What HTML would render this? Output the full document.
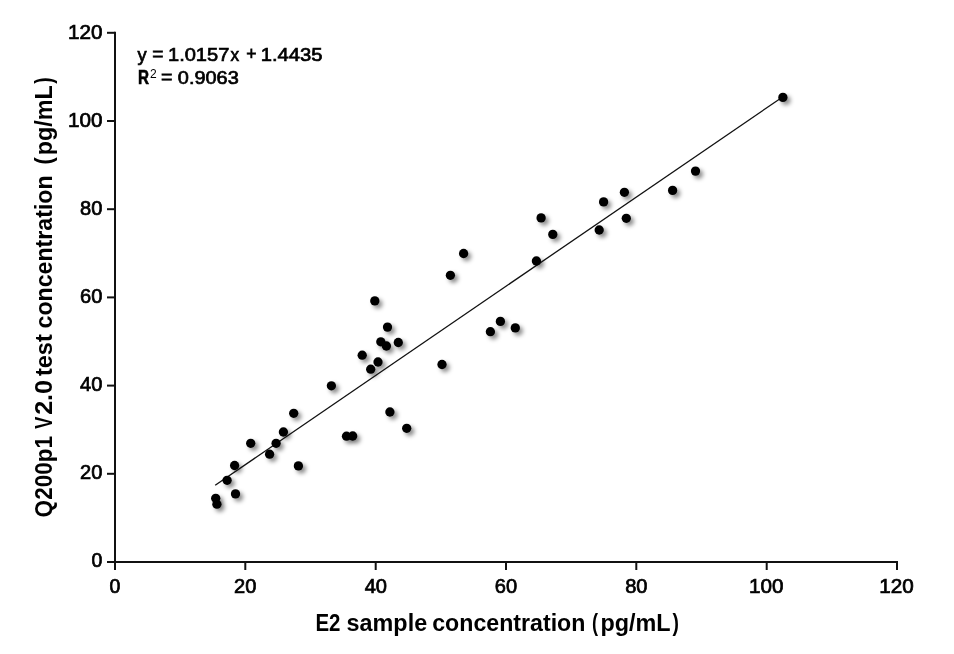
<!DOCTYPE html>
<html lang="en">
<head>
<meta charset="utf-8">
<title>E2 sample concentration vs Q200p1 V2.0 test concentration</title>
<style>
html,body{margin:0;padding:0;background:#fff;}
body{width:954px;height:654px;overflow:hidden;}
svg{display:block;}
text{font-family:"Liberation Sans","Noto Sans CJK SC",sans-serif;fill:#000;}
.tick{font-size:19.7px;stroke:#000;stroke-width:0.7px;}
.eq{font-size:19px;stroke:#000;stroke-width:0.7px;}
.eqb{font-size:19.5px;font-weight:bold;stroke:#000;stroke-width:0.6px;}
.sup{font-size:12.3px;stroke:none;}
.lab{font-size:24.7px;font-weight:bold;}
</style>
</head>
<body>
<svg width="954" height="654" viewBox="0 0 954 654">
<defs>
<filter id="sh" x="-50%" y="-50%" width="250%" height="250%">
<feGaussianBlur stdDeviation="1.9"/>
</filter>
</defs>
<rect x="0" y="0" width="954" height="654" fill="#fff"/>
<!-- axes and tick marks -->
<g stroke="#111" stroke-width="2" fill="none">
<path d="M115 31.8V570"/>
<path d="M107 562H898"/>
<path d="M107 473.8H115"/>
<path d="M107 385.6H115"/>
<path d="M107 297.4H115"/>
<path d="M107 209.2H115"/>
<path d="M107 121.0H115"/>
<path d="M107 32.8H115"/>
<path d="M245.3 562V570"/>
<path d="M375.7 562V570"/>
<path d="M506.0 562V570"/>
<path d="M636.3 562V570"/>
<path d="M766.7 562V570"/>
<path d="M897.0 562V570"/>
</g>
<!-- y axis tick labels -->
<text class="tick" x="91.62" y="566.81" textLength="10.84" lengthAdjust="spacingAndGlyphs">0</text>
<text class="tick" x="80.12" y="478.81" textLength="22.34" lengthAdjust="spacingAndGlyphs">20</text>
<text class="tick" x="80.12" y="390.81" textLength="22.34" lengthAdjust="spacingAndGlyphs">40</text>
<text class="tick" x="80.12" y="302.81" textLength="22.34" lengthAdjust="spacingAndGlyphs">60</text>
<text class="tick" x="80.12" y="214.81" textLength="22.34" lengthAdjust="spacingAndGlyphs">80</text>
<text class="tick" x="68.00" y="126.81" textLength="34.50" lengthAdjust="spacingAndGlyphs">100</text>
<text class="tick" x="68.00" y="38.81" textLength="34.50" lengthAdjust="spacingAndGlyphs">120</text>
<!-- x axis tick labels -->
<text class="tick" x="109.62" y="592.50" textLength="10.84" lengthAdjust="spacingAndGlyphs">0</text>
<text class="tick" x="234.08" y="592.50" textLength="22.34" lengthAdjust="spacingAndGlyphs">20</text>
<text class="tick" x="364.67" y="592.50" textLength="22.34" lengthAdjust="spacingAndGlyphs">40</text>
<text class="tick" x="494.75" y="592.50" textLength="22.34" lengthAdjust="spacingAndGlyphs">60</text>
<text class="tick" x="625.15" y="592.50" textLength="22.34" lengthAdjust="spacingAndGlyphs">80</text>
<text class="tick" x="749.04" y="592.50" textLength="34.50" lengthAdjust="spacingAndGlyphs">100</text>
<text class="tick" x="879.38" y="592.50" textLength="34.50" lengthAdjust="spacingAndGlyphs">120</text>
<!-- marker shadows -->
<g filter="url(#sh)" fill="#000" fill-opacity="0.45">
<circle cx="218.7" cy="501.3" r="4.7"/>
<circle cx="219.9" cy="507.2" r="4.7"/>
<circle cx="230.1" cy="483.3" r="4.7"/>
<circle cx="238.5" cy="496.9" r="4.7"/>
<circle cx="237.6" cy="468.5" r="4.7"/>
<circle cx="253.7" cy="446.3" r="4.7"/>
<circle cx="272.6" cy="457.2" r="4.7"/>
<circle cx="279.1" cy="446.3" r="4.7"/>
<circle cx="286.4" cy="435.0" r="4.7"/>
<circle cx="301.4" cy="468.9" r="4.7"/>
<circle cx="296.7" cy="416.3" r="4.7"/>
<circle cx="334.4" cy="388.8" r="4.7"/>
<circle cx="349.5" cy="439.2" r="4.7"/>
<circle cx="355.7" cy="439.0" r="4.7"/>
<circle cx="365.2" cy="358.2" r="4.7"/>
<circle cx="373.7" cy="372.2" r="4.7"/>
<circle cx="381.0" cy="365.0" r="4.7"/>
<circle cx="377.8" cy="303.9" r="4.7"/>
<circle cx="383.8" cy="344.8" r="4.7"/>
<circle cx="389.4" cy="349.0" r="4.7"/>
<circle cx="390.5" cy="330.1" r="4.7"/>
<circle cx="401.3" cy="345.5" r="4.7"/>
<circle cx="392.9" cy="415.0" r="4.7"/>
<circle cx="409.7" cy="431.3" r="4.7"/>
<circle cx="445.0" cy="367.5" r="4.7"/>
<circle cx="453.4" cy="278.3" r="4.7"/>
<circle cx="466.6" cy="256.5" r="4.7"/>
<circle cx="493.4" cy="334.7" r="4.7"/>
<circle cx="503.4" cy="324.4" r="4.7"/>
<circle cx="518.3" cy="330.9" r="4.7"/>
<circle cx="539.4" cy="264.0" r="4.7"/>
<circle cx="544.1" cy="220.9" r="4.7"/>
<circle cx="555.8" cy="237.4" r="4.7"/>
<circle cx="602.2" cy="233.0" r="4.7"/>
<circle cx="606.6" cy="204.9" r="4.7"/>
<circle cx="627.4" cy="195.3" r="4.7"/>
<circle cx="629.3" cy="221.3" r="4.7"/>
<circle cx="675.6" cy="193.4" r="4.7"/>
<circle cx="698.5" cy="174.1" r="4.7"/>
<circle cx="785.9" cy="100.4" r="4.7"/>
</g>
<!-- regression line -->
<path d="M215.2 485.3L783 96.7" stroke="#111" stroke-width="1.3" fill="none"/>
<!-- markers -->
<g fill="#000">
<circle cx="215.7" cy="498.3" r="4.65"/>
<circle cx="216.9" cy="504.2" r="4.65"/>
<circle cx="227.1" cy="480.3" r="4.65"/>
<circle cx="235.5" cy="493.9" r="4.65"/>
<circle cx="234.6" cy="465.5" r="4.65"/>
<circle cx="250.7" cy="443.3" r="4.65"/>
<circle cx="269.6" cy="454.2" r="4.65"/>
<circle cx="276.1" cy="443.3" r="4.65"/>
<circle cx="283.4" cy="432.0" r="4.65"/>
<circle cx="298.4" cy="465.9" r="4.65"/>
<circle cx="293.7" cy="413.3" r="4.65"/>
<circle cx="331.4" cy="385.8" r="4.65"/>
<circle cx="346.5" cy="436.2" r="4.65"/>
<circle cx="352.7" cy="436.0" r="4.65"/>
<circle cx="362.2" cy="355.2" r="4.65"/>
<circle cx="370.7" cy="369.2" r="4.65"/>
<circle cx="378.0" cy="362.0" r="4.65"/>
<circle cx="374.8" cy="300.9" r="4.65"/>
<circle cx="380.8" cy="341.8" r="4.65"/>
<circle cx="386.4" cy="346.0" r="4.65"/>
<circle cx="387.5" cy="327.1" r="4.65"/>
<circle cx="398.3" cy="342.5" r="4.65"/>
<circle cx="389.9" cy="412.0" r="4.65"/>
<circle cx="406.7" cy="428.3" r="4.65"/>
<circle cx="442.0" cy="364.5" r="4.65"/>
<circle cx="450.4" cy="275.3" r="4.65"/>
<circle cx="463.6" cy="253.5" r="4.65"/>
<circle cx="490.4" cy="331.7" r="4.65"/>
<circle cx="500.4" cy="321.4" r="4.65"/>
<circle cx="515.3" cy="327.9" r="4.65"/>
<circle cx="536.4" cy="261.0" r="4.65"/>
<circle cx="541.1" cy="217.9" r="4.65"/>
<circle cx="552.8" cy="234.4" r="4.65"/>
<circle cx="599.2" cy="230.0" r="4.65"/>
<circle cx="603.6" cy="201.9" r="4.65"/>
<circle cx="624.4" cy="192.3" r="4.65"/>
<circle cx="626.3" cy="218.3" r="4.65"/>
<circle cx="672.6" cy="190.4" r="4.65"/>
<circle cx="695.5" cy="171.1" r="4.65"/>
<circle cx="782.9" cy="97.4" r="4.65"/>
</g>
<!-- regression equation -->
<text class="eq"><tspan x="137.57" y="60.80" textLength="9.12" lengthAdjust="spacingAndGlyphs">y</tspan> <tspan x="152.18" y="59.90" textLength="11.25" lengthAdjust="spacingAndGlyphs">=</tspan> <tspan x="167.97" y="60.80" textLength="61.40" lengthAdjust="spacingAndGlyphs">1.0157</tspan><tspan x="230.38" y="60.80" textLength="8.64" lengthAdjust="spacingAndGlyphs">x</tspan> <tspan x="246.20" y="59.90" textLength="10.30" lengthAdjust="spacingAndGlyphs">+</tspan> <tspan x="260.68" y="60.80" textLength="61.78" lengthAdjust="spacingAndGlyphs">1.4435</tspan></text>
<text class="eq"><tspan class="eqb" x="138.05" y="83.60" textLength="11.03" lengthAdjust="spacingAndGlyphs">R</tspan><tspan class="sup" x="150.07" y="77.70" textLength="6.69" lengthAdjust="spacingAndGlyphs">2</tspan> <tspan x="161.07" y="82.50" textLength="11.50" lengthAdjust="spacingAndGlyphs">=</tspan> <tspan x="177.82" y="83.50" textLength="60.92" lengthAdjust="spacingAndGlyphs">0.9063</tspan></text>
<!-- axis titles -->
<text class="lab"><tspan x="315.43" y="630.90" textLength="25.04" lengthAdjust="spacingAndGlyphs">E2</tspan> <tspan x="346.62" y="630.90" textLength="80.53" lengthAdjust="spacingAndGlyphs">sample</tspan> <tspan x="432.23" y="630.90" textLength="153.16" lengthAdjust="spacingAndGlyphs">concentration</tspan> <tspan x="592.02" y="630.90" textLength="6.05" lengthAdjust="spacingAndGlyphs">(</tspan><tspan x="600.50" y="630.90" textLength="70.13" lengthAdjust="spacingAndGlyphs">pg/mL</tspan><tspan x="672.60" y="630.90" textLength="6.44" lengthAdjust="spacingAndGlyphs">)</tspan></text>
<text class="lab" transform="translate(52.4 0) rotate(-90)"><tspan x="-517.38" y="0.00" textLength="81.33" lengthAdjust="spacingAndGlyphs">Q200p1</tspan> <tspan x="-429.12" y="0.00" textLength="12.46" lengthAdjust="spacingAndGlyphs">V</tspan><tspan x="-414.88" y="0.00" textLength="34.75" lengthAdjust="spacingAndGlyphs">2.0</tspan> <tspan x="-376.05" y="0.00" textLength="41.78" lengthAdjust="spacingAndGlyphs">test</tspan> <tspan x="-328.48" y="0.00" textLength="153.11" lengthAdjust="spacingAndGlyphs">concentration</tspan>  <tspan x="-164.43" y="0.00" textLength="7.25" lengthAdjust="spacingAndGlyphs">(</tspan><tspan x="-155.30" y="0.00" textLength="70.08" lengthAdjust="spacingAndGlyphs">pg/mL</tspan><tspan x="-83.80" y="0.00" textLength="6.38" lengthAdjust="spacingAndGlyphs">)</tspan></text>
</svg>
</body>
</html>
